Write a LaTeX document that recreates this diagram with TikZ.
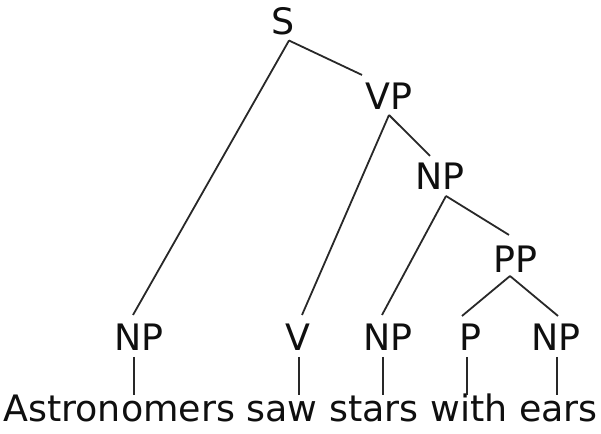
\documentclass[tikz,border=0pt]{standalone}
\usepackage{fontspec}
\setmainfont{DejaVu Sans}
\usetikzlibrary{calc}
\definecolor{edgecol}{RGB}{40,40,40}
\definecolor{txtcol}{RGB}{15,15,15}
\begin{document}
\begin{tikzpicture}[x=1pt,y=1pt,
  lab/.style={inner sep=0pt,outer sep=0pt,anchor=base,text=txtcol,
    font=\fontsize{36.4pt}{40pt}\selectfont},
  edge/.style={draw=edgecol,line width=1.8pt}]
\useasboundingbox (0,0) rectangle (601,433);
% labels
\node[lab] (S)   at (283,398) {S};
\node[lab] (VP)  at (389,323) {VP};
\node[lab] (NPm) at (440,243) {NP};
\node[lab] (PP)  at (515,160) {PP};
\node[lab] (NP1) at (139,82) {NP};
\node[lab] (V)   at (298,82) {V};
\node[lab] (NP3) at (388,82) {NP};
\node[lab] (P)   at (470,82) {P};
\node[lab] (NP5) at (556,82) {NP};
\node[lab] (words) at (300.5,12) {Astronomers saw stars with ears};
% branches
\draw[edge] ($(S.south)+(6,-5)$) -- ($(NP1.north)+(-6,9.5)$);
\draw[edge] ($(S.south)+(6,-5)$) -- ($(VP.north)+(-27,8.5)$);
\draw[edge] ($(VP.south)+(0,-5)$) -- ($(V.north)+(4,9.5)$);
\draw[edge] ($(VP.south)+(0,-5)$) -- ($(NPm.north)+(-10,7.5)$);
\draw[edge] ($(NPm.south)+(6,-6)$) -- ($(NP3.north)+(-6,9.5)$);
\draw[edge] ($(NPm.south)+(6,-6)$) -- ($(PP.north)+(-6,11.5)$);
\draw[edge] ($(PP.south)+(-5,-3)$) -- ($(P.north)+(-8,8.5)$);
\draw[edge] ($(PP.south)+(-5,-3)$) -- ($(NP5.north)+(2,8.5)$);
% leaves
\draw[edge] ($(NP1.south)+(-5,-6)$) -- ($(NP1.south |- words.north)+(-5,-2)$);
\draw[edge] ($(V.south)+(1,-6)$) -- ($(V.south |- words.north)+(1,-2)$);
\draw[edge] ($(NP3.south)+(-5,-6)$) -- ($(NP3.south |- words.north)+(-5,-2)$);
\draw[edge] ($(P.south)+(-3,-6)$) -- ($(P.south |- words.north)+(-3,-2)$);
\draw[edge] ($(NP5.south)+(1,-6)$) -- ($(NP5.south |- words.north)+(1,-2)$);
\end{tikzpicture}
\end{document}
